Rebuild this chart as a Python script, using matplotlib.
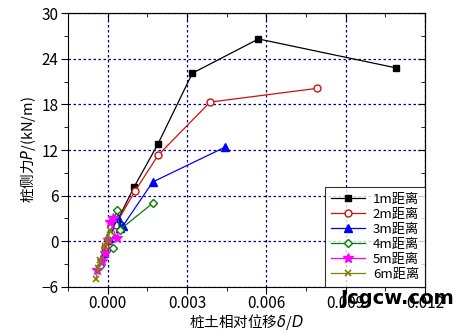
import matplotlib
matplotlib.use('Agg')
import matplotlib.pyplot as plt
from matplotlib.ticker import MultipleLocator

plt.rcParams['font.family'] = ['Noto Sans CJK SC', 'DejaVu Sans']

labels = ['1m距离', '2m距离', '3m距离', '4m距离', '5m距离', '6m距离']

x1 = [-0.00012, 0.0, 0.00035, 0.00099, 0.0019, 0.0032, 0.0057, 0.0109]
y1 = [-1.2, 0.0, 2.6, 7.1, 12.8, 22.1, 26.6, 22.8]
x2 = [-0.0001, 0.00002, 0.0003, 0.00103, 0.0019, 0.00387, 0.0079]
y2 = [-0.8, 0.2, 2.2, 6.6, 11.3, 18.3, 20.1]
x3 = [-0.00015, 0.00005, 0.00038, 0.00046, 0.00057, 0.0017, 0.00445]
y3 = [-1.5, 0.5, 3.1, 1.7, 2.0, 7.8, 12.4]
x4 = [-0.0003, 0.00018, 0.0001, 0.00034, 0.00045, 0.0017]
y4 = [-3.2, -0.9, 0.8, 4.1, 1.5, 5.0]
x5 = [-0.0004, -0.00023, -0.0001, 0.0, 0.00034, 0.0001, 0.00018]
y5 = [-3.8, -2.6, -1.5, 0.2, 0.4, 2.5, 3.0]
x6 = [-0.00045, -0.00035, -0.0003, -0.0001, 0.0, 0.0001]
y6 = [-5.0, -3.5, -2.4, -0.6, 0.2, 1.5]

fig = plt.figure(figsize=(4.6, 3.36), dpi=100)
ax = fig.add_axes([0.148, 0.146, 0.776, 0.815])

ax.plot(x1, y1, '-s', color='black', lw=0.9, ms=5, label=labels[0])
ax.plot(x2, y2, '-o', color='#d01010', mfc='white', lw=0.9, ms=5, label=labels[1])
ax.plot(x3, y3, '-^', color='#0000ff', lw=0.9, ms=6, label=labels[2])
ax.plot(x4, y4, '-D', color='#008000', mfc='white', lw=0.9, ms=4.5, label=labels[3])
ax.plot(x5, y5, '-*', color='#ff00ff', lw=0.9, ms=7, label=labels[4])
ax.plot(x6, y6, '-x', color='#808000', lw=0.9, ms=5, mew=1.2, label=labels[5])

ax.set_xticks([0.0, 0.003, 0.006, 0.009, 0.012])
ax.set_xticklabels(['0.000', '0.003', '0.006', '0.009', '0.012'])
ax.xaxis.set_minor_locator(MultipleLocator(0.0015))
ax.yaxis.set_major_locator(MultipleLocator(6))
ax.yaxis.set_minor_locator(MultipleLocator(3))
ax.set_xlim(-0.0015, 0.012)
ax.set_ylim(-6, 30)
ax.tick_params(which='major', direction='out', length=5, labelsize=11)
ax.tick_params(which='minor', direction='out', length=3)
ax.tick_params(axis='x', which='major', pad=1)
ax.tick_params(axis='y', which='major', pad=2)
ax.grid(True, which='major', color='#000080', linestyle=(0, (2, 2)), lw=0.9)

top = ax.secondary_xaxis('top')
top.xaxis.set_major_locator(MultipleLocator(0.003))
top.xaxis.set_minor_locator(MultipleLocator(0.0015))
top.tick_params(which='major', direction='in', length=5, labeltop=False)
top.tick_params(which='minor', direction='in', length=3)
right = ax.secondary_yaxis('right')
right.yaxis.set_major_locator(MultipleLocator(6))
right.yaxis.set_minor_locator(MultipleLocator(3))
right.tick_params(which='major', direction='in', length=5, labelright=False)
right.tick_params(which='minor', direction='in', length=3)

ax.set_xlabel('桩土相对位移$\\delta$/$D$', fontsize=10.5, labelpad=0)
ax.set_ylabel('桩侧力$P$/(kN/m)', fontsize=10.5, labelpad=2)

leg = ax.legend(loc='lower right', borderaxespad=0, fontsize=9.5, frameon=True,
                fancybox=False, edgecolor='black', handlelength=2.6,
                labelspacing=0.15, borderpad=0.45, handletextpad=0.6)
leg.get_frame().set_linewidth(0.8)

fig.text(0.74, 0.095, 'Jcgcw.com', fontsize=14, fontweight='bold', color='black',
         family='DejaVu Sans')

fig.savefig('out.png', dpi=100)
